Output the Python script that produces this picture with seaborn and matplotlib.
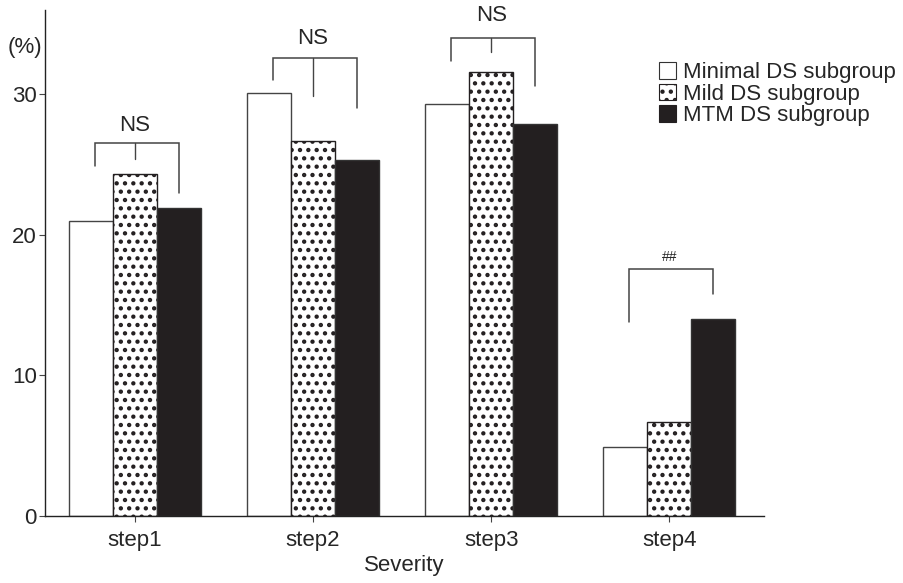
import matplotlib
matplotlib.use("Agg")
import matplotlib.pyplot as plt
from matplotlib.patches import Patch
import seaborn as sns
import pandas as pd

steps = ["step1", "step2", "step3", "step4"]
groups = ["Minimal DS subgroup", "Mild DS subgroup", "MTM DS subgroup"]
minimal = [21.0, 30.1, 29.3, 4.9]
mild = [24.3, 26.7, 31.6, 6.7]
mtm = [21.9, 25.3, 27.9, 14.0]
sig_labels = ["NS", "NS", "NS", "##"]
yticks = [0, 10, 20, 30]

rows = []
for g, vals in zip(groups, [minimal, mild, mtm]):
    for s, v in zip(steps, vals):
        rows.append({"Severity": s, "group": g, "value": v})
df = pd.DataFrame(rows)

sns.set_theme(style="white")
plt.rcParams["font.family"] = ["Liberation Sans", "DejaVu Sans"]
plt.rcParams["hatch.linewidth"] = 1.9

FS = 16

fig = plt.figure(figsize=(9.04, 5.83), dpi=100)
ax = fig.add_axes([0.0498, 0.115, 0.795, 0.868])

palette = {groups[0]: "white", groups[1]: "white", groups[2]: "#231f20"}
sns.barplot(data=df, x="Severity", y="value", hue="group", hue_order=groups,
            order=steps, palette=palette, width=0.74, ax=ax, legend=False,
            edgecolor="#333333", linewidth=1.0, saturation=1)

for p in ax.containers[1].patches:
    p.set_hatch("..")
    p.set_edgecolor("#231f20")
for p in ax.containers[0].patches:
    p.set_edgecolor("#444444")

ax.set_xlim(-0.505, 3.53)
ax.set_ylim(0, 36)
ax.set_yticks(yticks)
ax.set_yticklabels([str(t) for t in yticks], fontsize=FS)
ax.tick_params(axis="x", labelsize=FS, length=4, width=0.8, pad=6, direction="out", bottom=True, color="#444")
ax.tick_params(axis="y", length=4, width=0.8, pad=2, direction="out", left=True, color="#444")
ax.set_xlabel("Severity", fontsize=FS, labelpad=3)
ax.set_ylabel("")
for side in ["top", "right"]:
    ax.spines[side].set_visible(False)
for side in ["left", "bottom"]:
    ax.spines[side].set_color("#222222")
    ax.spines[side].set_linewidth(1.0)

ax.text(-0.052, 0.925, "(%)", transform=ax.transAxes, fontsize=FS, ha="left", va="center")

# significance brackets
bw = 0.247
brackets = [
    (0, 26.5, 24.9, 25.4, 23.0, 27.8),
    (1, 32.6, 31.0, 29.85, 29.0, 34.0),
    (2, 34.0, 32.4, 33.0, 30.6, 35.6),
    (3, 17.55, 13.8, None, 15.8, 18.4),
]
for (i, top, lbot, cbot, rbot, ty), lab in zip(brackets, sig_labels):
    xl, xr = i - bw + 0.02, i + bw
    ax.plot([xl, xl, xr, xr], [lbot, top, top, rbot], color="#444444", lw=1.1,
            solid_joinstyle="miter", clip_on=False)
    if cbot is not None:
        ax.plot([i, i], [top, cbot], color="#444444", lw=1.0, clip_on=False)
    fs = FS if lab == "NS" else 10
    ax.text(i, ty, lab, ha="center", va="center", fontsize=fs, clip_on=False)

handles = [
    Patch(facecolor="white", edgecolor="#333333", linewidth=0.8),
    Patch(facecolor="white", edgecolor="#231f20", hatch="..", linewidth=0.8),
    Patch(facecolor="#231f20", edgecolor="#231f20", linewidth=0.8),
]
fig.legend(handles, groups, loc="upper left", bbox_to_anchor=(0.729, 0.893),
           frameon=False, fontsize=FS, handlelength=0.75, handleheight=0.75,
           handletextpad=0.35, labelspacing=0.02, borderaxespad=0, borderpad=0)

fig.savefig("out.png", dpi=100)
